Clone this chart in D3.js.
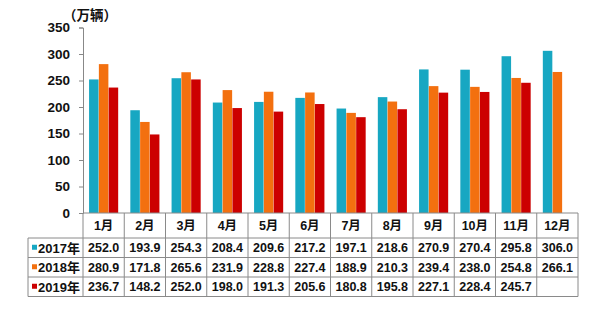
<!DOCTYPE html>
<html lang="zh">
<head>
<meta charset="UTF-8">
<title>汽车月度销量</title>
<script src="https://d3js.org/d3.v7.min.js"></script>
<style>
    body { margin: 0; background: #fff; }
    svg { display: block; }
    text { font-family: "Liberation Sans", Arial, "Noto Sans CJK SC", sans-serif; font-weight: bold; fill: #111; }
</style>
</head>
<body>
<svg id="chart" width="611" height="310"></svg>
<script>
    const months = ["1月","2月","3月","4月","5月","6月","7月","8月","9月","10月","11月","12月"];
    const years = ["2017年","2018年","2019年"];
    const sales2017 = [252.0,193.9,254.3,208.4,209.6,217.2,197.1,218.6,270.9,270.4,295.8,306.0];
    const sales2018 = [280.9,171.8,265.6,231.9,228.8,227.4,188.9,210.3,239.4,238.0,254.8,266.1];
    const sales2019 = [236.7,148.2,252.0,198.0,191.3,205.6,180.8,195.8,227.1,228.4,245.7,null];
    const yTicks = [0,50,100,150,200,250,300,350];
    const colors = ["#17a7c2","#f3700f","#cc0000"];

    const series = [sales2017, sales2018, sales2019];

    const svg = d3.select("#chart");
    const plotLeft = 83, plotRight = 578, plotTop = 27.5, plotBottom = 213;

    const x0 = d3.scaleBand().domain(months).range([plotLeft, plotRight]).padding(0);
    const x1 = d3.scaleBand().domain(years).range([0, x0.bandwidth()])
                 .paddingInner(0.03).paddingOuter(0.62);
    const y = d3.scaleLinear().domain([0, 350]).range([plotBottom, plotTop]);

    // bars
    const groups = svg.append("g").selectAll("g")
        .data(months)
        .enter().append("g")
        .attr("transform", d => "translate(" + x0(d) + ",0)");

    groups.selectAll("rect")
        .data((m, i) => series.map((s, k) => ({year: years[k], v: s[i], k: k})).filter(d => d.v != null))
        .enter().append("rect")
        .attr("x", d => x1(d.year))
        .attr("width", x1.bandwidth())
        .attr("y", d => y(d.v))
        .attr("height", d => plotBottom - y(d.v))
        .attr("fill", d => colors[d.k]);

    // y axis
    const yAxis = d3.axisLeft(y).tickValues(yTicks).tickSize(4).tickPadding(9);
    const ga = svg.append("g").attr("transform", "translate(" + plotLeft + ",0)").call(yAxis);
    ga.select(".domain").attr("stroke", "#888");
    ga.selectAll(".tick line").attr("stroke", "#888");
    ga.selectAll("text").style("font-size", "13.5px").attr("fill", "#111");

    svg.append("text").attr("x", 63).attr("y", 20)
        .style("font-size", "13.5px").text("（万辆）");

    // data table
    const grid = "#8a8a8a";
    const headTop = plotBottom, headBot = 238;
    const rowH = 19.5;
    const tableLeft = 28;
    const tableBot = headBot + rowH * 3;

    const tg = svg.append("g");
    tg.selectAll(".mlab").data(months).enter().append("text")
        .attr("x", d => x0(d) + x0.bandwidth() / 2)
        .attr("y", (headTop + headBot) / 2 + 4.5)
        .attr("text-anchor", "middle")
        .style("font-size", "12.5px")
        .text(d => d);

    // horizontal lines
    tg.append("line").attr("x1", plotLeft).attr("x2", plotRight).attr("y1", headTop).attr("y2", headTop).attr("stroke", grid);
    d3.range(4).forEach(r => {
        tg.append("line").attr("x1", tableLeft).attr("x2", plotRight)
          .attr("y1", headBot + r * rowH).attr("y2", headBot + r * rowH)
          .attr("stroke", grid);
    });
    // vertical lines
    months.forEach(m => {
        tg.append("line").attr("x1", x0(m)).attr("x2", x0(m))
          .attr("y1", headTop).attr("y2", tableBot).attr("stroke", grid);
    });
    tg.append("line").attr("x1", plotRight).attr("x2", plotRight).attr("y1", headTop).attr("y2", tableBot).attr("stroke", grid);
    tg.append("line").attr("x1", tableLeft).attr("x2", tableLeft).attr("y1", headBot).attr("y2", tableBot).attr("stroke", grid);

    // rows
    years.forEach((yr, k) => {
        const cy = headBot + k * rowH + rowH / 2;
        tg.append("rect").attr("x", 32).attr("y", cy - 3).attr("width", 5).attr("height", 5).attr("fill", colors[k]);
        tg.append("text").attr("x", 38).attr("y", cy + 5)
          .style("font-size", "13px").text(yr);
        tg.selectAll(".v" + k).data(series[k]).enter().append("text")
          .attr("x", (d, i) => x0(months[i]) + x0.bandwidth() / 2)
          .attr("y", cy + 4.5)
          .attr("text-anchor", "middle")
          .style("font-size", "12.5px")
          .text(d => d == null ? "" : d.toFixed(1));
    });
</script>
</body>
</html>
